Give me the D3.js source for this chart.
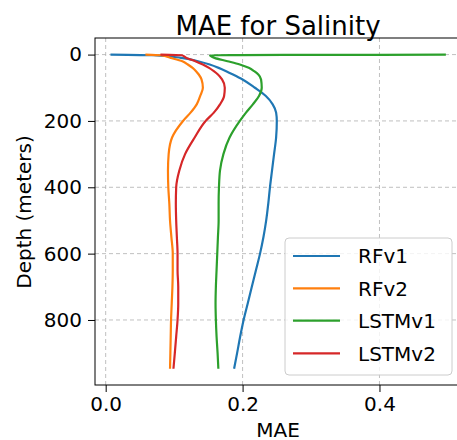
<!DOCTYPE html>
<html>
<head>
<meta charset="utf-8">
<script src="https://cdn.jsdelivr.net/npm/d3@7"></script>
<style>
  html, body { margin: 0; padding: 0; background: #fff; }
  svg { display: block; font-family: "DejaVu Sans", sans-serif; }
</style>
</head>
<body>
<svg id="chart" width="457" height="440"></svg>
<script>
const depths = [0, 2, 10, 20, 30, 40, 50, 60, 75, 100, 125, 150, 175, 200, 250, 300, 350, 400, 450, 500, 550, 600, 650, 700, 750, 800, 850, 900, 947];
const rfv1   = [0.007, 0.07, 0.11, 0.135, 0.152, 0.165, 0.176, 0.186, 0.200, 0.218, 0.234, 0.244, 0.249, 0.250, 0.249, 0.246, 0.243, 0.240, 0.2375, 0.2345, 0.2305, 0.2255, 0.2195, 0.2135, 0.2075, 0.2015, 0.1965, 0.192, 0.1876];
const rfv2   = [0.058, 0.080, 0.095, 0.112, 0.120, 0.127, 0.132, 0.136, 0.140, 0.142, 0.138, 0.133, 0.124, 0.113, 0.097, 0.092, 0.091, 0.0915, 0.093, 0.094, 0.096, 0.098, 0.098, 0.0975, 0.0965, 0.0955, 0.095, 0.0945, 0.094];
const lstmv1 = [0.497, 0.1525, 0.159, 0.178, 0.196, 0.209, 0.217, 0.223, 0.227, 0.228, 0.224, 0.215, 0.205, 0.196, 0.181, 0.172, 0.167, 0.1655, 0.165, 0.165, 0.164, 0.163, 0.162, 0.161, 0.1605, 0.161, 0.162, 0.1635, 0.1646];
const lstmv2 = [0.080, 0.111, 0.118, 0.131, 0.142, 0.151, 0.158, 0.164, 0.170, 0.174, 0.173, 0.167, 0.158, 0.146, 0.130, 0.116, 0.1075, 0.103, 0.1025, 0.103, 0.104, 0.105, 0.105, 0.106, 0.106, 0.105, 0.103, 0.101, 0.099];
const seriesNames = ["RFv1", "RFv2", "LSTMv1", "LSTMv2"];
const seriesColors = ["#1f77b4", "#ff7f0e", "#2ca02c", "#d62728"];
const xTicks = [0.0, 0.2, 0.4];
const yTicks = [0, 200, 400, 600, 800];
const titleText = "MAE for Salinity";
const xLabel = "MAE";
const yLabel = "Depth (meters)";

const series = [rfv1, rfv2, lstmv1, lstmv2].map((vals, i) => ({
  name: seriesNames[i], color: seriesColors[i],
  points: vals.map((v, j) => ({ x: v, d: depths[j] }))
}));

const svg = d3.select("#chart");
const L = 95, R = 464.7, T = 38, B = 385;
const x = d3.scaleLinear().domain([-0.0156, 0.5245]).range([L, R]);
const y = d3.scaleLinear().domain([-50, 996]).range([T, B]);

svg.append("defs").append("clipPath").attr("id", "clip")
  .append("rect").attr("x", L).attr("y", T).attr("width", R - L).attr("height", B - T);

// grid
const grid = svg.append("g");
grid.selectAll(".vg").data(xTicks).enter().append("line")
  .attr("x1", d => x(d)).attr("x2", d => x(d)).attr("y1", T).attr("y2", B)
  .attr("stroke", "#b0b0b0").attr("stroke-width", 0.8).attr("stroke-dasharray", "4,3");
grid.selectAll(".hg").data(yTicks).enter().append("line")
  .attr("x1", L).attr("x2", R).attr("y1", d => y(d)).attr("y2", d => y(d))
  .attr("stroke", "#b0b0b0").attr("stroke-width", 0.8).attr("stroke-dasharray", "4,3");

// lines
const line = d3.line().x(p => x(p.x)).y(p => y(p.d)).curve(d3.curveMonotoneY);
const lg = svg.append("g").attr("clip-path", "url(#clip)");
series.forEach(s => {
  lg.append("path").attr("d", line(s.points)).attr("fill", "none")
    .attr("stroke", s.color).attr("stroke-width", 2.2).attr("stroke-linejoin", "round").attr("stroke-linecap", "butt");
});

// frame
svg.append("rect").attr("x", L).attr("y", T).attr("width", R - L).attr("height", B - T)
  .attr("fill", "none").attr("stroke", "#000").attr("stroke-width", 1);

// axes
const xAxis = d3.axisBottom(x).tickValues(xTicks).tickFormat(d3.format(".1f")).tickSize(7).tickPadding(5);
const gx = svg.append("g").attr("transform", `translate(0,${B})`).call(xAxis);
gx.select(".domain").remove();
gx.selectAll("text").attr("font-size", 20).attr("font-family", "DejaVu Sans").attr("fill", "#000");
gx.selectAll("line").attr("stroke", "#000");

const yAxis = d3.axisLeft(y).tickValues(yTicks).tickFormat(d3.format("d")).tickSize(7).tickPadding(6);
const gy = svg.append("g").attr("transform", `translate(${L},0)`).call(yAxis);
gy.select(".domain").remove();
gy.selectAll("text").attr("font-size", 20).attr("font-family", "DejaVu Sans").attr("fill", "#000");
gy.selectAll("line").attr("stroke", "#000");

// title and labels
svg.append("text").attr("x", 278).attr("y", 35).attr("text-anchor", "middle")
  .attr("font-size", 26).attr("fill", "#000").text(titleText);
svg.append("text").attr("x", 278).attr("y", 436.5).attr("text-anchor", "middle")
  .attr("font-size", 20).attr("fill", "#000").text(xLabel);
svg.append("text").attr("transform", "translate(31,212) rotate(-90)").attr("text-anchor", "middle")
  .attr("font-size", 20).attr("fill", "#000").text(yLabel);

// legend
const leg = svg.append("g");
leg.append("rect").attr("x", 285).attr("y", 238).attr("width", 167).attr("height", 137)
  .attr("rx", 4).attr("fill", "#fff").attr("fill-opacity", 0.8).attr("stroke", "#cccccc").attr("stroke-width", 1);
const legY = [256, 288.3, 320.7, 353.3];
series.forEach((s, i) => {
  leg.append("line").attr("x1", 293).attr("x2", 340).attr("y1", legY[i]).attr("y2", legY[i])
    .attr("stroke", s.color).attr("stroke-width", 2.2);
  leg.append("text").attr("x", 358).attr("y", legY[i]).attr("dy", "0.36em")
    .attr("font-size", 20).attr("fill", "#000").text(s.name);
});
</script>
</body>
</html>
